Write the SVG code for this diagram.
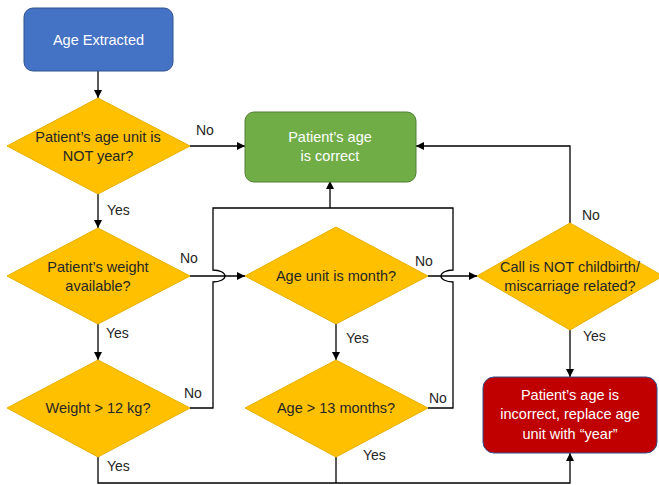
<svg xmlns="http://www.w3.org/2000/svg" width="659" height="485" viewBox="0 0 659 485">
<style>
text{font-family:"Liberation Sans",Arial,sans-serif;font-size:14.5px;text-anchor:middle}
.dia{fill:#FFC000;stroke:#E8B000;stroke-width:1}
.dt{fill:#262626}
.wt{fill:#FFFFFF}
.ln{fill:none;stroke:#000;stroke-width:1.3}
.lb{fill:#262626;text-anchor:start;font-size:14px}
</style>
<defs>
<marker id="ah" viewBox="0 0 10 10" refX="10" refY="5" markerWidth="8" markerHeight="8" markerUnits="userSpaceOnUse" orient="auto">
<path d="M0,0 L10,5 L0,10 z" fill="#000"/>
</marker>
</defs>
<rect width="659" height="485" fill="#fff"/>
<g id="connectors">
<path class="ln" d="M98,71 V98" marker-end="url(#ah)"/>
<path class="ln" d="M190,146 H245" marker-end="url(#ah)"/>
<path class="ln" d="M98,194 V228" marker-end="url(#ah)"/>
<path class="ln" d="M98,324 V360" marker-end="url(#ah)"/>
<path class="ln" d="M190,276 H245" marker-end="url(#ah)"/>
<path class="ln" d="M428,276 H477" marker-end="url(#ah)"/>
<path class="ln" d="M336,324 V360" marker-end="url(#ah)"/>
<path class="ln" d="M190,408 H213 V282 A12,6 0 0 0 213,270 V208 H453 V270 A12,6 0 0 0 453,282 V408 H428"/>
<path class="ln" d="M330,208 V181" marker-end="url(#ah)"/>
<path class="ln" d="M570,223 V146 H416" marker-end="url(#ah)"/>
<path class="ln" d="M570,330 V377" marker-end="url(#ah)"/>
<path class="ln" d="M98,457 V483 H570 V453" marker-end="url(#ah)"/>
<path class="ln" d="M336,457 V483"/>
<text class="lb" x="196" y="135">No</text>
<text class="lb" x="107" y="215">Yes</text>
<text class="lb" x="180" y="263">No</text>
<text class="lb" x="106" y="338">Yes</text>
<text class="lb" x="184" y="398">No</text>
<text class="lb" x="107" y="471">Yes</text>
<text class="lb" x="415" y="266">No</text>
<text class="lb" x="346" y="343">Yes</text>
<text class="lb" x="429" y="403">No</text>
<text class="lb" x="363" y="460">Yes</text>
<text class="lb" x="582" y="220">No</text>
<text class="lb" x="583" y="341">Yes</text>
</g>
<g id="age-extracted">
<rect x="24" y="8" width="149" height="63" rx="9" fill="#4472C4" stroke="#2F528F" stroke-width="1"/>
<text class="wt" x="98.5" y="45">Age Extracted</text>
</g>
<g id="d-not-year">
<polygon class="dia" points="98,98 190,146 98,194 7,146"/>
<text class="dt" x="98" y="142">Patient’s age unit is</text>
<text class="dt" x="98" y="161">NOT year?</text>
</g>
<g id="age-correct">
<rect x="245" y="112" width="171" height="70" rx="9" fill="#70AD47" stroke="#507E32" stroke-width="1"/>
<text class="wt" x="330" y="142">Patient’s age</text>
<text class="wt" x="330" y="161">is correct</text>
</g>
<g id="d-weight-available">
<polygon class="dia" points="98,228 190,276 98,324 7,276"/>
<text class="dt" x="98" y="272">Patient’s weight</text>
<text class="dt" x="98" y="291">available?</text>
</g>
<g id="d-weight-12">
<polygon class="dia" points="98,360 190,408 98,457 7,408"/>
<text class="dt" x="98" y="413">Weight &gt; 12 kg?</text>
</g>
<g id="d-month">
<polygon class="dia" points="336,227 428,276 336,324 245,276"/>
<text class="dt" x="336" y="281">Age unit is month?</text>
</g>
<g id="d-13-months">
<polygon class="dia" points="336,360 428,408 336,457 245,408"/>
<text class="dt" x="336" y="413">Age &gt; 13 months?</text>
</g>
<g id="d-childbirth">
<polygon class="dia" points="570,223 663,276 570,330 477,276"/>
<text class="dt" x="570" y="272">Call is NOT childbirth/</text>
<text class="dt" x="570" y="291">miscarriage related?</text>
</g>
<g id="age-incorrect">
<rect x="483" y="377" width="174" height="76" rx="11" fill="#C00000" stroke="#2F528F" stroke-width="1"/>
<text class="wt" x="570" y="400">Patient’s age is</text>
<text class="wt" x="570" y="419">incorrect, replace age</text>
<text class="wt" x="570" y="439">unit with “year”</text>
</g>
</svg>
